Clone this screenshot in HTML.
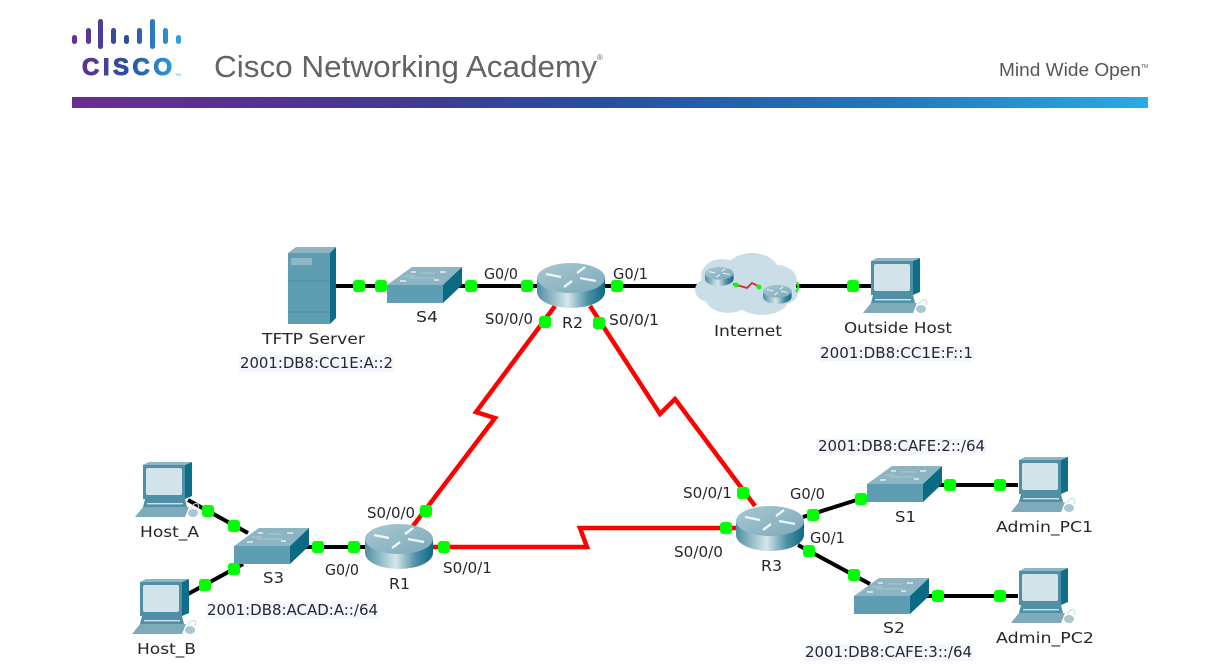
<!DOCTYPE html>
<html><head><meta charset="utf-8"><style>
html,body{margin:0;padding:0;background:#fff;width:1222px;height:665px;overflow:hidden}
svg{display:block}
.l{font-family:"DejaVu Sans","Liberation Sans",sans-serif;font-size:15px;fill:#26262e}
.bg{fill:#f5f7fe}
</style></head><body>
<svg width="1222" height="665" viewBox="0 0 1222 665" xmlns="http://www.w3.org/2000/svg">
<defs>
<linearGradient id="bar" x1="0" x2="1" y1="0" y2="0"><stop offset="0" stop-color="#6c2c91"/><stop offset=".3" stop-color="#43388f"/><stop offset=".5" stop-color="#26509e"/><stop offset=".75" stop-color="#2475bb"/><stop offset="1" stop-color="#2aaae2"/></linearGradient>
<linearGradient id="logo" gradientUnits="userSpaceOnUse" x1="72" x2="182" y1="0" y2="0"><stop offset="0" stop-color="#6c2c91"/><stop offset=".5" stop-color="#2a4f9f"/><stop offset="1" stop-color="#2aaae2"/></linearGradient>
<linearGradient id="rc" x1="0" x2="1" y1="0" y2="0"><stop offset="0" stop-color="#4f8ea2"/><stop offset=".45" stop-color="#d5e6ea"/><stop offset=".75" stop-color="#4c90a5"/><stop offset="1" stop-color="#0d6a84"/></linearGradient>
<linearGradient id="rt" x1="0" x2="1" y1="0" y2="1"><stop offset="0" stop-color="#a9c8d3"/><stop offset="1" stop-color="#7ba9b9"/></linearGradient>
<symbol id="sw" width="75" height="36" viewBox="0 0 75 36" overflow="visible">
<polygon points="0,18 25,0 75,0 56,18" fill="#8db4c2"/>
<polygon points="0,18 56,18 56,36 0,36" fill="#5f9db2"/>
<polygon points="56,18 75,0 75,18 56,36" fill="#0b6a84"/>
<g stroke="#e3eef2" stroke-width="1.6"><path d="M24,5 L29,5 M53,5 L59,5 M13,14 L19,14 M47,13 L52,13"/></g>
<path d="M22,11 L48,11 M34,6 L48,6 M18,9 L28,9" stroke="#a9c8d3" stroke-width="1"/>
</symbol>
<symbol id="rt1" width="68" height="45" viewBox="0 0 68 45" overflow="visible">
<path d="M0,15 L0,29 A34,16 0 0 0 68,29 L68,15 Z" fill="url(#rc)"/>
<ellipse cx="34" cy="15" rx="34" ry="15" fill="url(#rt)"/>
<g stroke="#eef5f7" stroke-width="2.4" fill="none">
<path d="M9,11 L24,14"/><path d="M27,24 L35,18"/><path d="M40,10 L48,4"/><path d="M43,15 L59,18"/>
</g>
</symbol>
<symbol id="pc" width="67" height="56" viewBox="0 0 67 56" overflow="visible">
<polygon points="50,3 57,0 57,34 50,37" fill="#0f6f88"/>
<polygon points="8,3 14,0 57,0 50,3" fill="#8db4c2"/>
<rect x="8" y="3" width="42" height="34" fill="#4f90a6"/>
<rect x="11" y="6" width="36" height="27" rx="2" fill="#d3e3ea"/>
<polygon points="10,37 50,37 52,45 8,45" fill="#4f90a6"/>
<rect x="12" y="41" width="36" height="1.4" fill="#cfe0e6"/>
<polygon points="8,45 54,45 50,55 0,55" fill="#7faabb"/>
<ellipse cx="58" cy="51" rx="5" ry="4" fill="#aac8d2"/>
<path d="M56,46 C60,38 66,42 63,47" stroke="#c4d8df" fill="none"/>
</symbol>
</defs>

<!-- header -->
<g fill="url(#logo)">
<rect x="72" y="35" width="5" height="9" rx="2.4"/><rect x="86" y="28" width="5" height="16" rx="2.4"/><rect x="98" y="19" width="5" height="30" rx="2.4"/><rect x="111" y="28" width="5" height="16" rx="2.4"/><rect x="124" y="35" width="5" height="9" rx="2.4"/><rect x="137" y="28" width="5" height="16" rx="2.4"/><rect x="150" y="19" width="5" height="30" rx="2.4"/><rect x="163" y="28" width="5" height="16" rx="2.4"/><rect x="176" y="35" width="5" height="9" rx="2.4"/>
<text x="82" y="75" font-family="Liberation Sans,sans-serif" font-weight="700" font-size="24" textLength="90" lengthAdjust="spacing" stroke="url(#logo)" stroke-width="1">CISCO</text>
</g>
<text x="175" y="76" font-family="Liberation Sans,sans-serif" font-size="4" fill="#2aaae2">TM</text>
<text x="214" y="77" font-family="Liberation Sans,sans-serif" font-size="31" fill="#626365" textLength="383" lengthAdjust="spacingAndGlyphs">Cisco Networking Academy</text>
<text x="597" y="60" font-family="Liberation Sans,sans-serif" font-size="8" fill="#626365">®</text>
<text x="999" y="76" font-family="Liberation Sans,sans-serif" font-size="18" fill="#555658" textLength="142" lengthAdjust="spacingAndGlyphs">Mind Wide Open</text>
<text x="1141" y="68" font-family="Liberation Sans,sans-serif" font-size="5" fill="#555658">TM</text>
<rect x="72" y="97" width="1076" height="11" fill="url(#bar)"/>

<!-- links -->
<g stroke="#000" stroke-width="4" fill="none">
<path d="M336,286 H387"/><path d="M458,286 H540"/><path d="M603,286 H698"/><path d="M796,286 H874"/>
<path d="M188,500 L248,533"/><path d="M188,594 L243,564"/><path d="M305,547 H368"/>
<path d="M803,517 L866,497"/><path d="M798,545 L870,584"/><path d="M937,485 H1018"/><path d="M925,596 H1018"/>
</g>
<g stroke="#f00" stroke-width="4.5" fill="none" stroke-linejoin="miter">
<path d="M555,306 L476,412 L495,418 L413,526"/>
<path d="M590,306 L660,414 L675,399 L755,506"/>
<path d="M430,547 H587 L580,528 H738"/>
</g>

<!-- devices -->
<polygon points="288,253 296,247 336,247 330,253" fill="#8db4c2"/>
<rect x="288" y="253" width="42" height="71" fill="#5f9db2"/>
<polygon points="330,253 336,247 336,318 330,324" fill="#0b6a84"/>
<rect x="291" y="258" width="21" height="7" fill="#8fb8c6"/>
<path d="M288,281 H330 M288,312 H330" stroke="#4f8da2" stroke-width="1"/>

<use href="#sw" x="387" y="267"/>
<use href="#sw" x="234" y="528"/>
<use href="#sw" x="867" y="466"/>
<use href="#sw" x="854" y="578"/>
<use href="#rt1" x="537" y="263"/>
<use href="#rt1" x="365" y="524"/>
<use href="#rt1" x="736" y="506"/>
<use href="#pc" x="863" y="258"/>
<use href="#pc" x="135" y="462"/>
<use href="#pc" x="132" y="579"/>
<use href="#pc" x="1011" y="457"/>
<use href="#pc" x="1011" y="568"/>

<!-- cloud -->
<g fill="#c9dee7">
<ellipse cx="722" cy="276" rx="21" ry="17"/><ellipse cx="752" cy="272" rx="27" ry="19"/><ellipse cx="777" cy="281" rx="20" ry="16"/><ellipse cx="783" cy="293" rx="15" ry="11"/><ellipse cx="710" cy="290" rx="15" ry="12"/><ellipse cx="728" cy="299" rx="22" ry="14"/><ellipse cx="762" cy="300" rx="26" ry="15"/><ellipse cx="748" cy="285" rx="35" ry="22"/>
</g>
<use href="#rt1" transform="translate(705,267) scale(.42)"/>
<use href="#rt1" transform="translate(763,285) scale(.42)"/>
<path d="M733,284 L747,288 L752,283 L760,287" stroke="#e8202a" stroke-width="1.8" fill="none"/>
<g fill="#0f0"><circle cx="736" cy="285" r="2.5"/><circle cx="759" cy="287" r="2.5"/></g>
<path d="M797,282 Q800,287 796,292" stroke="#0f0" stroke-width="2" fill="none"/>

<!-- dots -->
<g fill="#0f0">
<rect x="353" y="280" width="12" height="12" rx="3"/><rect x="375" y="280" width="12" height="12" rx="3"/><rect x="465" y="280" width="12" height="12" rx="3"/><rect x="521" y="280" width="12" height="12" rx="3"/><rect x="611" y="280" width="12" height="12" rx="3"/><rect x="847" y="280" width="12" height="12" rx="3"/>
<rect x="539" y="316" width="12" height="12" rx="3"/><rect x="593" y="317" width="12" height="12" rx="3"/>
<rect x="202" y="505" width="12" height="12" rx="3"/><rect x="228" y="520" width="12" height="12" rx="3"/><rect x="199" y="579" width="12" height="12" rx="3"/><rect x="228" y="563" width="12" height="12" rx="3"/>
<rect x="312" y="541" width="12" height="12" rx="3"/><rect x="348" y="541" width="12" height="12" rx="3"/><rect x="420" y="505" width="12" height="12" rx="3"/><rect x="438" y="541" width="12" height="12" rx="3"/>
<rect x="737" y="487" width="12" height="12" rx="3"/><rect x="720" y="522" width="12" height="12" rx="3"/><rect x="807" y="509" width="12" height="12" rx="3"/><rect x="855" y="493" width="12" height="12" rx="3"/>
<rect x="803" y="545" width="12" height="12" rx="3"/><rect x="848" y="569" width="12" height="12" rx="3"/><rect x="944" y="479" width="12" height="12" rx="3"/><rect x="994" y="479" width="12" height="12" rx="3"/><rect x="932" y="590" width="12" height="12" rx="3"/><rect x="994" y="590" width="12" height="12" rx="3"/>
</g>

<!-- label backgrounds -->
<g class="bg">
<rect x="239" y="355" width="155" height="17"/><rect x="819" y="345" width="155" height="17"/><rect x="206" y="602" width="173" height="17"/><rect x="817" y="438" width="169" height="17"/><rect x="804" y="644" width="169" height="17"/>
</g>

<!-- labels -->
<g class="l">
<text x="262" y="344" textLength="103" lengthAdjust="spacingAndGlyphs">TFTP Server</text>
<text x="240" y="368" textLength="153" lengthAdjust="spacingAndGlyphs">2001:DB8:CC1E:A::2</text>
<text x="416" y="322" textLength="22" lengthAdjust="spacingAndGlyphs">S4</text>
<text x="484" y="279" textLength="34" lengthAdjust="spacingAndGlyphs">G0/0</text>
<text x="485" y="324" textLength="48" lengthAdjust="spacingAndGlyphs">S0/0/0</text>
<text x="562" y="328" textLength="21" lengthAdjust="spacingAndGlyphs">R2</text>
<text x="613" y="279" textLength="35" lengthAdjust="spacingAndGlyphs">G0/1</text>
<text x="609" y="325" textLength="50" lengthAdjust="spacingAndGlyphs">S0/0/1</text>
<text x="714" y="336" textLength="68" lengthAdjust="spacingAndGlyphs">Internet</text>
<text x="844" y="333" textLength="108" lengthAdjust="spacingAndGlyphs">Outside Host</text>
<text x="820" y="358" textLength="153" lengthAdjust="spacingAndGlyphs">2001:DB8:CC1E:F::1</text>
<text x="140" y="537" textLength="59" lengthAdjust="spacingAndGlyphs">Host_A</text>
<text x="137" y="654" textLength="59" lengthAdjust="spacingAndGlyphs">Host_B</text>
<text x="263" y="583" textLength="21" lengthAdjust="spacingAndGlyphs">S3</text>
<text x="207" y="615" textLength="171" lengthAdjust="spacingAndGlyphs">2001:DB8:ACAD:A::/64</text>
<text x="325" y="575" textLength="34" lengthAdjust="spacingAndGlyphs">G0/0</text>
<text x="389" y="589" textLength="21" lengthAdjust="spacingAndGlyphs">R1</text>
<text x="367" y="518" textLength="48" lengthAdjust="spacingAndGlyphs">S0/0/0</text>
<text x="443" y="573" textLength="49" lengthAdjust="spacingAndGlyphs">S0/0/1</text>
<text x="818" y="451" textLength="167" lengthAdjust="spacingAndGlyphs">2001:DB8:CAFE:2::/64</text>
<text x="683" y="498" textLength="49" lengthAdjust="spacingAndGlyphs">S0/0/1</text>
<text x="790" y="499" textLength="35" lengthAdjust="spacingAndGlyphs">G0/0</text>
<text x="895" y="522" textLength="21" lengthAdjust="spacingAndGlyphs">S1</text>
<text x="996" y="532" textLength="97" lengthAdjust="spacingAndGlyphs">Admin_PC1</text>
<text x="810" y="543" textLength="35" lengthAdjust="spacingAndGlyphs">G0/1</text>
<text x="674" y="557" textLength="49" lengthAdjust="spacingAndGlyphs">S0/0/0</text>
<text x="761" y="571" textLength="21" lengthAdjust="spacingAndGlyphs">R3</text>
<text x="883" y="633" textLength="22" lengthAdjust="spacingAndGlyphs">S2</text>
<text x="996" y="643" textLength="98" lengthAdjust="spacingAndGlyphs">Admin_PC2</text>
<text x="805" y="657" textLength="167" lengthAdjust="spacingAndGlyphs">2001:DB8:CAFE:3::/64</text>
</g>
</svg>
</body></html>
